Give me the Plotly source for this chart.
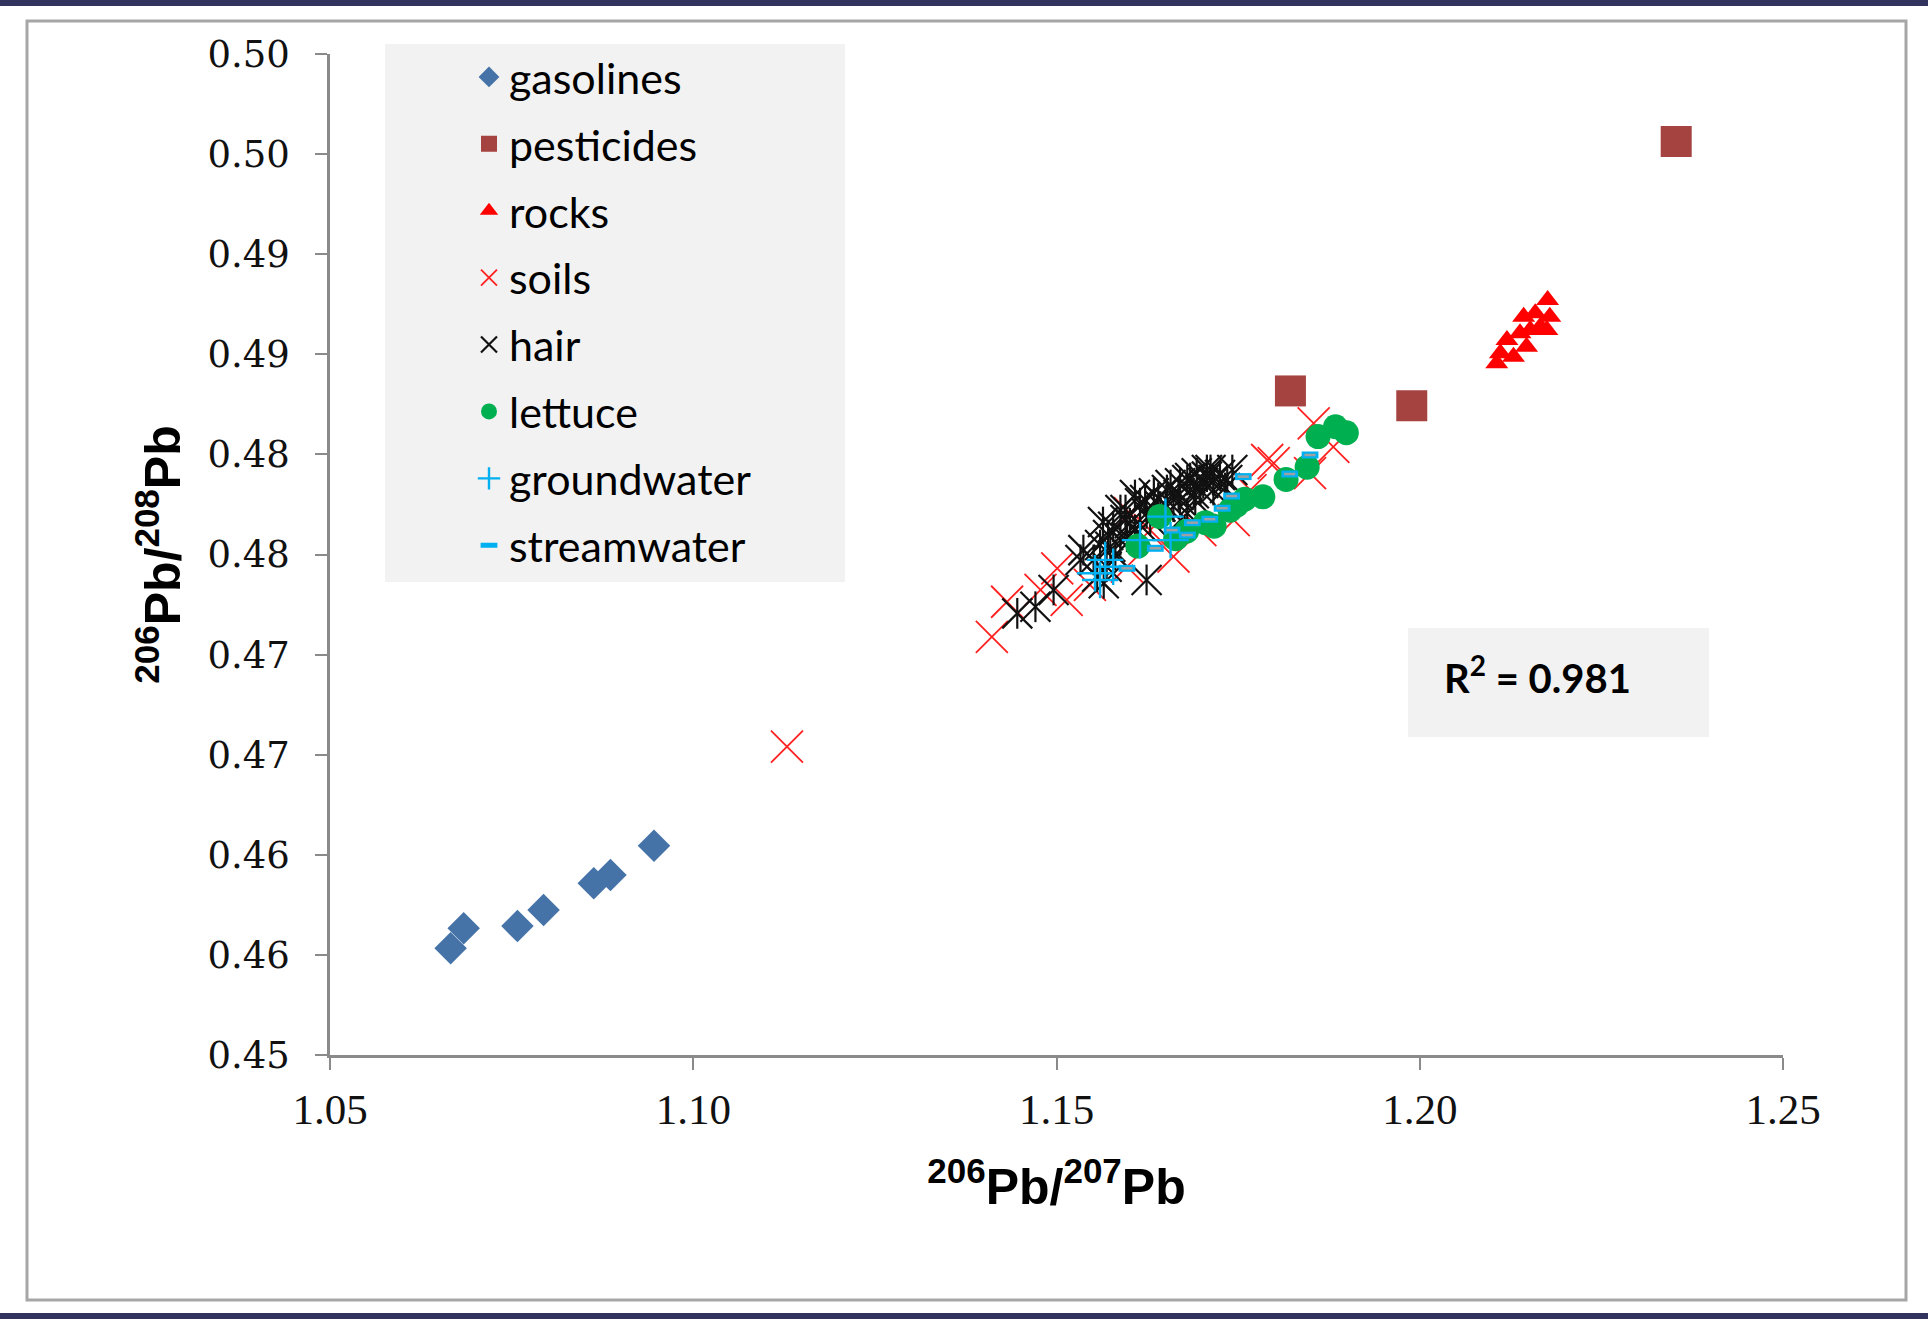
import plotly.graph_objects as go

# ---------------- data ----------------
gas_x = [1.0666, 1.0684, 1.0758, 1.0794, 1.0863, 1.0886, 1.0946]
gas_y = [0.45533, 0.45633, 0.45644, 0.45724, 0.45858, 0.45899, 0.46045]

pest_x = [1.1822, 1.1989, 1.2353]
pest_y = [0.48317, 0.48243, 0.49563]

rock_x = [1.2176, 1.2159, 1.2143, 1.2179, 1.2166, 1.2138, 1.2147, 1.2120, 1.2111, 1.2106, 1.2129, 1.2175, 1.2152]
rock_y = [0.48771, 0.48705, 0.48688, 0.48688, 0.48638, 0.48605, 0.48538, 0.48571, 0.48505, 0.48455, 0.48488, 0.48621, 0.48621]

soil_x = [1.1129, 1.1411, 1.1432, 1.1501, 1.1514, 1.1478, 1.1546, 1.1597, 1.1601, 1.1661,
          1.1698, 1.1744, 1.1790, 1.1799, 1.1849, 1.1854, 1.1881, 1.1767, 1.1629]
soil_y = [0.46540, 0.47089, 0.47264, 0.47431, 0.47273, 0.47323, 0.47348, 0.47439, 0.47706, 0.47489,
          0.47622, 0.47672, 0.47972, 0.47956, 0.47906, 0.48155, 0.48038, 0.47822, 0.47622]

hair_x = [1.1446, 1.1471, 1.1496, 1.1537, 1.1556, 1.1565, 1.1624, 1.1578, 1.1588, 1.1601,
          1.1615, 1.1634, 1.1652, 1.1670, 1.1680, 1.1693, 1.1707, 1.1716, 1.1735, 1.1689,
          1.1661, 1.1643, 1.1624, 1.1597, 1.1574, 1.1569, 1.1670, 1.1698, 1.1716, 1.1680,
          1.1707, 1.1551, 1.1588, 1.1608,
          1.1560, 1.1581, 1.1595, 1.1608, 1.1622, 1.1629, 1.1640, 1.1650, 1.1657, 1.1668,
          1.1684, 1.1691, 1.1702, 1.1712, 1.1725, 1.1732, 1.1742, 1.1615, 1.1595, 1.1571,
          1.1564, 1.1533]
hair_y = [0.47206, 0.47239, 0.47323, 0.47522, 0.47389, 0.47356, 0.47373, 0.47639, 0.47572, 0.47656,
          0.47756, 0.47806, 0.47822, 0.47856, 0.47872, 0.47906, 0.47889, 0.47872, 0.47872, 0.47806,
          0.47739, 0.47739, 0.47706, 0.47589, 0.47539, 0.47439, 0.47772, 0.47822, 0.47822, 0.47706,
          0.47922, 0.47473, 0.47722, 0.47797,
          0.47547, 0.47498, 0.47672, 0.47622, 0.47772, 0.47672, 0.47782, 0.47747, 0.47847, 0.47797,
          0.47882, 0.47772, 0.47857, 0.47922, 0.47897, 0.47832, 0.47922, 0.47647, 0.47722, 0.47597,
          0.47662, 0.47473]

lett_x = [1.1612, 1.1642, 1.1664, 1.1679, 1.1705, 1.1717, 1.1739, 1.1759, 1.1784, 1.1816,
          1.1845, 1.1860, 1.1884, 1.1899, 1.1748]
lett_y = [0.47542, 0.47690, 0.47579, 0.47616, 0.47659, 0.47641, 0.47721, 0.47776, 0.47788, 0.47875,
          0.47936, 0.48089, 0.48138, 0.48108, 0.47747]

gw_x = [1.1650, 1.1615, 1.1657, 1.1567, 1.1578, 1.1553, 1.1560]
gw_y = [0.47689, 0.47572, 0.47572, 0.47473, 0.47439, 0.47406, 0.47373]

sw_x = [1.1849, 1.1821, 1.1757, 1.1741, 1.1728, 1.1711, 1.1687, 1.1680, 1.1659, 1.1636, 1.1597]
sw_y = [0.47997, 0.47902, 0.47889, 0.47792, 0.47731, 0.47676, 0.47659, 0.47597, 0.47622, 0.47531, 0.47431]

x_ticks = [1.05, 1.10, 1.15, 1.20, 1.25]
x_tick_labels = ["1.05", "1.10", "1.15", "1.20", "1.25"]
y_ticks = [0.450, 0.455, 0.460, 0.465, 0.470, 0.475, 0.480, 0.485, 0.490, 0.495, 0.500]
y_tick_labels = ["0.45", "0.46", "0.46", "0.47", "0.47", "0.48", "0.48", "0.49", "0.49", "0.50", "0.50"]

r2_text = "R<sup>2</sup> = 0.981"
x_title = "<sup>206</sup>Pb/<sup>207</sup>Pb"
y_title = "<sup>206</sup>Pb/<sup>208</sup>Pb"

# ---------------- layout geometry ----------------
W, H = 1928, 1319
ML, MR, MT, MB = 330, 145, 54, 264
PW, PH = W - ML - MR, H - MT - MB


def px(xp):
    # page pixel -> paper coordinate
    return (xp - ML) / PW


def py(yp):
    return 1 - (yp - MT) / PH


fig = go.Figure()

fig.add_trace(go.Scatter(x=gas_x, y=gas_y, mode="markers", name="gasolines", legendgroup="g1",
                         marker=dict(symbol="diamond", size=25, color="#4573A8",
                                     line=dict(width=0))))
fig.add_trace(go.Scatter(x=pest_x, y=pest_y, mode="markers", name="pesticides", legendgroup="g2",
                         marker=dict(symbol="square", size=31, color="#A4433F",
                                     line=dict(width=0))))
fig.add_trace(go.Scatter(x=rock_x, y=rock_y, mode="markers", name="rocks", legendgroup="g3",
                         marker=dict(symbol="triangle-up", size=20, color="#FF0000",
                                     line=dict(width=0))))
fig.add_trace(go.Scatter(x=soil_x, y=soil_y, mode="markers", name="soils", legendgroup="g4",
                         marker=dict(symbol="x-thin-open", size=32, color="#FF2020",
                                     line=dict(width=1.8, color="#FF2020"))))
fig.add_trace(go.Scatter(x=hair_x, y=hair_y, mode="markers", name="hair", legendgroup="g5",
                         marker=dict(symbol="x-thin-open", size=30, color="#111111",
                                     line=dict(width=2.2, color="#111111"))))
fig.add_trace(go.Scatter(x=hair_x, y=hair_y, mode="markers", name="hair", legendgroup="g5",
                         showlegend=False, hoverinfo="skip",
                         marker=dict(symbol="line-ns-open", size=22, color="#111111",
                                     line=dict(width=2.2, color="#111111"))))
fig.add_trace(go.Scatter(x=lett_x, y=lett_y, mode="markers", name="lettuce", legendgroup="g6",
                         marker=dict(symbol="circle", size=25, color="#00B050",
                                     line=dict(width=0))))
fig.add_trace(go.Scatter(x=gw_x, y=gw_y, mode="markers", name="groundwater", legendgroup="g7",
                         marker=dict(symbol="cross-thin-open", size=26, color="#00B0F0",
                                     line=dict(width=2.4, color="#00B0F0"))))
fig.add_trace(go.Scatter(x=sw_x, y=sw_y, mode="markers", name="streamwater", legendgroup="g8",
                         marker=dict(symbol="line-ew-open", size=12, color="#00B0F0",
                                     line=dict(width=7, color="#00B0F0"))))
fig.add_trace(go.Scatter(x=sw_x, y=sw_y, mode="markers", name="streamwater", legendgroup="g8",
                         showlegend=False, hoverinfo="skip",
                         marker=dict(symbol="line-ew-open", size=8, color="#A0A0A0",
                                     line=dict(width=2.5, color="#A0A0A0"))))

axis_col = "#8A8A8A"
fig.update_xaxes(range=[1.05, 1.25], tickvals=x_ticks, ticktext=x_tick_labels,
                 showgrid=False, zeroline=False, showline=True, linecolor=axis_col, linewidth=2.5,
                 ticks="outside", ticklen=12, tickwidth=1.5, tickcolor=axis_col,
                 ticklabelstandoff=3,
                 tickfont=dict(family="Liberation Serif", size=43, color="#111111"),
                 title=dict(text=x_title, standoff=37,
                            font=dict(family="Liberation Sans", size=50, color="#000000",
                                      weight="bold")))
fig.update_yaxes(range=[0.45, 0.50], tickvals=y_ticks, ticktext=y_tick_labels,
                 showgrid=False, zeroline=False, showline=True, linecolor=axis_col, linewidth=2.5,
                 ticks="outside", ticklen=12, tickwidth=1.5, tickcolor=axis_col,
                 ticklabelstandoff=18,
                 tickfont=dict(family="DejaVu Serif", size=37, color="#111111"),
                 title=dict(text=y_title, standoff=11,
                            font=dict(family="Liberation Sans", size=50, color="#000000",
                                      weight="bold")))

shapes = [
    # top and bottom dark bands
    dict(type="rect", xref="paper", yref="paper", x0=px(0), x1=px(W), y0=py(0), y1=py(6),
         fillcolor="#33335F", line=dict(width=0), layer="below"),
    dict(type="rect", xref="paper", yref="paper", x0=px(0), x1=px(W), y0=py(1313), y1=py(1319),
         fillcolor="#33335F", line=dict(width=0), layer="below"),
    # chart frame
    dict(type="rect", xref="paper", yref="paper", x0=px(27), x1=px(1906), y0=py(21), y1=py(1300),
         fillcolor="rgba(0,0,0,0)", line=dict(width=3, color="#A6A6A6"), layer="below"),
    # legend background
    dict(type="rect", xref="paper", yref="paper", x0=px(385), x1=px(845), y0=py(44), y1=py(582),
         fillcolor="#F2F2F2", line=dict(width=0), layer="below"),
    # R2 box
    dict(type="rect", xref="paper", yref="paper", x0=px(1408), x1=px(1709), y0=py(628), y1=py(737),
         fillcolor="#F2F2F2", line=dict(width=0), layer="below"),
]

fig.update_layout(
    width=W, height=H,
    margin=dict(l=ML, r=MR, t=MT, b=MB, autoexpand=False),
    paper_bgcolor="#FFFFFF", plot_bgcolor="#FFFFFF",
    showlegend=True,
    legend=dict(x=px(469), y=py(42.5), xanchor="left", yanchor="top",
                bgcolor="rgba(0,0,0,0)", borderwidth=0, tracegroupgap=8,
                font=dict(family="Lato", size=43, color="#000000")),
    shapes=shapes,
    annotations=[dict(text=r2_text, xref="paper", yref="paper", x=px(1442), y=py(675),
                      xanchor="left", yanchor="middle", showarrow=False,
                      font=dict(family="Lato", size=40, color="#000000", weight="bold"))],
)

# remove the default 8px page margin so the figure fills the window exactly
fig.write_html("out.html", config={"displayModeBar": False},
               post_script="document.body.style.margin='0px';")
